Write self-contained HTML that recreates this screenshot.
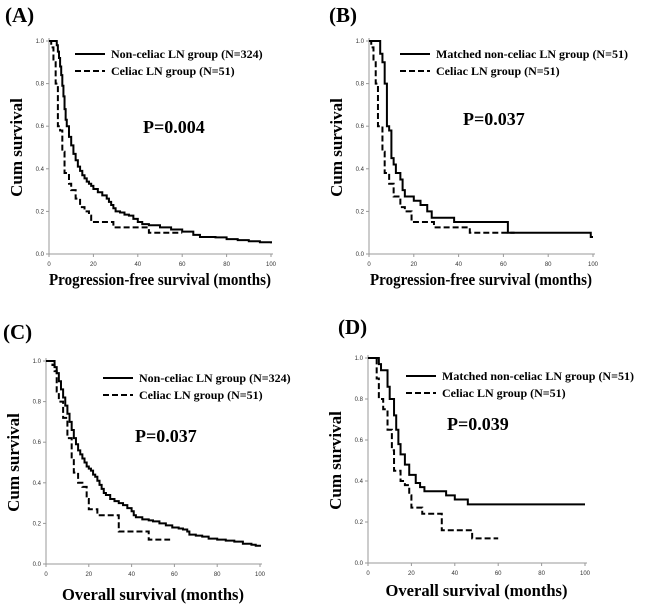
<!DOCTYPE html>
<html><head><meta charset="utf-8"><style>
html,body{margin:0;padding:0;background:#fff;}
svg{display:block;font-family:"Liberation Serif",serif;}
.tick{font-family:"Liberation Sans",sans-serif;font-size:6px;fill:#333;}
</style></head><body>
<svg id="c" width="650" height="606" viewBox="0 0 650 606"></svg>
<script>
const xTicks=[0,20,40,60,80,100];
const yTicks=[0,0.2,0.4,0.6,0.8,1.0];
const yTickLabels=["0.0","0.2","0.4","0.6","0.8","1.0"];
const aSolidT=[0,3,3.5,4,4.5,5,5.5,6,6.5,7,7.5,8,9,10,11,12,13,14,15,16,17,18,19,20,22,24,26,27,28,29,30,32,34,36,38,40,42,45,50,55,60,65,68,75,80,85,90,95,100];
const aSolidS=[1,1,0.98,0.95,0.92,0.88,0.84,0.79,0.74,0.68,0.63,0.6,0.55,0.51,0.47,0.44,0.41,0.39,0.37,0.355,0.34,0.33,0.32,0.305,0.29,0.275,0.26,0.245,0.23,0.215,0.2,0.195,0.185,0.18,0.165,0.15,0.14,0.135,0.125,0.115,0.105,0.09,0.08,0.078,0.07,0.065,0.06,0.055,0.05];
const aDashT=[0,1,2,3,4,5,6,7,9,10,12,14,16,18,19,29,45,60];
const aDashS=[1,0.97,0.9,0.8,0.6,0.58,0.48,0.38,0.33,0.3,0.26,0.22,0.2,0.18,0.15,0.125,0.1,0.1];
const bSolidT=[0,4,5,6,7,8,9,10,11,12,14,15,16,20,23,26,28,38,62,99,100];
const bSolidS=[1,1,0.94,0.9,0.8,0.6,0.58,0.45,0.42,0.38,0.35,0.3,0.27,0.25,0.23,0.2,0.17,0.15,0.1,0.08,0.08];
const bDashT=[0,1,2,3,4,6,7,9,11,14,16,19,29,45,65];
const bDashS=[1,0.97,0.9,0.8,0.6,0.48,0.38,0.33,0.27,0.22,0.2,0.15,0.125,0.1,0.1];
const cSolidT=[0,3,4,5,6,7,8,9,10,11,12,13,14,15,16,17,18,19,20,21,22,23,24,25,26,27,28,30,32,34,36,38,40,41,42,45,48,50,53,56,59,62,64,66,67,70,73,76,80,84,88,92,96,98,100];
const cSolidS=[1,1,0.97,0.94,0.9,0.86,0.82,0.78,0.74,0.7,0.66,0.62,0.59,0.56,0.54,0.52,0.5,0.48,0.47,0.46,0.44,0.43,0.41,0.39,0.37,0.35,0.34,0.32,0.31,0.3,0.29,0.275,0.26,0.24,0.23,0.22,0.215,0.21,0.2,0.19,0.18,0.175,0.17,0.16,0.145,0.14,0.135,0.125,0.12,0.115,0.11,0.1,0.095,0.09,0.085];
const cDashT=[0,3,4,5,6,8,10,12,13,15,17,19,20,24,33,34,47,48,58];
const cDashS=[1,0.98,0.95,0.85,0.8,0.72,0.62,0.52,0.45,0.4,0.38,0.32,0.27,0.24,0.24,0.16,0.16,0.12,0.12];
const dSolidT=[0,4,5,6,8,9,10,12,13,14,15,17,19,22,24,26,35,36,40,46,100];
const dSolidS=[1,1,0.97,0.94,0.94,0.86,0.8,0.72,0.65,0.58,0.53,0.48,0.43,0.39,0.37,0.35,0.35,0.33,0.31,0.286,0.286];
const dDashT=[0,3,4,5,7,9,11,12,15,17,19,20,25,33,34,47,48,60];
const dDashS=[1,1,0.9,0.8,0.75,0.65,0.55,0.45,0.4,0.38,0.33,0.27,0.24,0.24,0.16,0.16,0.12,0.12];

const svg=document.getElementById('c');
const NS='http://www.w3.org/2000/svg';
function mk(tag,attrs,parent){const e=document.createElementNS(NS,tag);for(const k in attrs)e.setAttribute(k,attrs[k]);parent.appendChild(e);return e;}
const panels=[
 {id:'a',lab:'(A)',lx:5,ly:22,x0:49,x1:271,y1:41,y0:254,xl:'Progression-free survival (months)',xlw:222,xly:285,s:[aSolidT,aSolidS],d:[aDashT,aDashS],
  leg:['Non-celiac LN group (N=324)','Celiac LN group (N=51)'],legx:75,legy:54,p:'P=0.004',px:143,py:133},
 {id:'b',lab:'(B)',lx:329,ly:22,x0:369,x1:593,y1:41,y0:254,xl:'Progression-free survival (months)',xlw:222,xly:285,s:[bSolidT,bSolidS],d:[bDashT,bDashS],
  leg:['Matched non-celiac LN group (N=51)','Celiac LN group (N=51)'],legx:400,legy:54,p:'P=0.037',px:463,py:125},
 {id:'c',lab:'(C)',lx:3,ly:339,x0:46,x1:260,y1:361,y0:564,xl:'Overall survival (months)',xlw:182,xly:600,s:[cSolidT,cSolidS],d:[cDashT,cDashS],
  leg:['Non-celiac LN group (N=324)','Celiac LN group (N=51)'],legx:103,legy:378,p:'P=0.037',px:135,py:442},
 {id:'d',lab:'(D)',lx:338,ly:334,x0:368,x1:585,y1:358,y0:563,xl:'Overall survival (months)',xlw:182,xly:596,s:[dSolidT,dSolidS],d:[dDashT,dDashS],
  leg:['Matched non-celiac LN group (N=51)','Celiac LN group (N=51)'],legx:406,legy:376,p:'P=0.039',px:447,py:430}
];
function stepPath(T,S,X,Y){let d='M'+X(T[0])+','+Y(S[0]);for(let i=1;i<T.length;i++){d+=' H'+X(T[i])+' V'+Y(S[i]);}return d;}
panels.forEach(p=>{
 const g=mk('g',{},svg);
 
 
 const X=v=>p.x0+(p.x1-p.x0)*v/100;
 const Y=v=>p.y0-(p.y0-p.y1)*v;
 const t=mk('text',{x:p.lx,y:p.ly,'font-size':21,'font-weight':'bold'},g);t.textContent=p.lab;
 
 const ax=mk('path',{d:`M${p.x0},${p.y1-3} V${p.y0} H${p.x1+2}`,stroke:'#999',fill:'none','stroke-width':1},g);
 
 yTicks.forEach((v,i)=>{mk('line',{x1:p.x0-3,x2:p.x0,y1:Y(v),y2:Y(v),stroke:'#999'},g);
  const l=mk('text',{x:p.x0-5,y:Y(v)+2,'text-anchor':'end',class:'tick'},g);l.textContent=yTickLabels[i];
  });
 xTicks.forEach(v=>{mk('line',{x1:X(v),x2:X(v),y1:p.y0,y2:p.y0+3,stroke:'#999'},g);
  const l=mk('text',{x:X(v),y:p.y0+12,'text-anchor':'middle',class:'tick'},g);l.textContent=v;
  });
 const yl=mk('text',{x:0,y:0,'font-size':17,'font-weight':'bold','text-anchor':'middle',transform:`translate(${p.x0-27},${(p.y0+p.y1)/2}) rotate(-90)`},g);
 yl.textContent='Cum survival';
 const xl=mk('text',{x:(p.x0+p.x1)/2-p.xlw/2,y:p.xly,'font-size':17,'font-weight':'bold',textLength:p.xlw,lengthAdjust:'spacingAndGlyphs'},g);
 xl.textContent=p.xl;
 const s=mk('path',{d:stepPath(p.s[0],p.s[1],X,Y),stroke:'#000','stroke-width':2,fill:'none'},g);
 
 const ds=mk('path',{d:stepPath(p.d[0],p.d[1],X,Y),stroke:'#000','stroke-width':2,fill:'none','stroke-dasharray':'6,3'},g);
 
 [0,1].forEach(i=>{
  const yy=p.legy+i*17;
  const ln=mk('line',{x1:p.legx,x2:p.legx+30,y1:yy,y2:yy,stroke:'#000','stroke-width':2,'stroke-dasharray':i?'6,3':'none'},g);
  
  const lt=mk('text',{x:p.legx+36,y:yy+4,'font-size':12,'font-weight':'bold'},g);lt.textContent=p.leg[i];
  
 });
 const pt=mk('text',{x:p.px,y:p.py,'font-size':18,'font-weight':'bold'},g);pt.textContent=p.p;
 
});
</script>
</body></html>
